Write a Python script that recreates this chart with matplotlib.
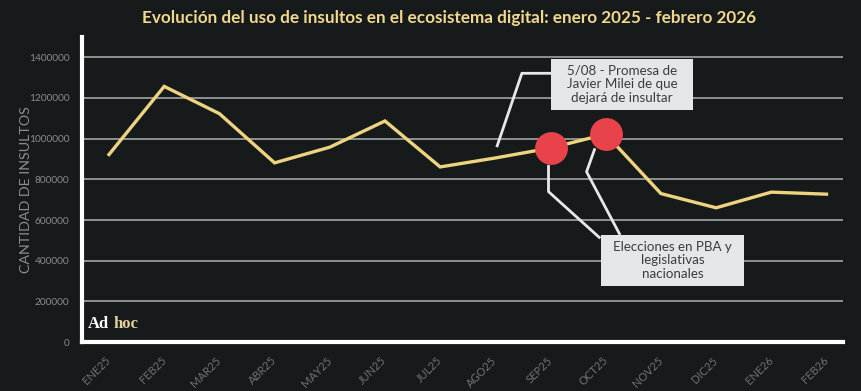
import matplotlib
matplotlib.use("Agg")
import matplotlib.pyplot as plt
from matplotlib.patches import Rectangle
from matplotlib.transforms import ScaledTranslation

months = ["ENE25", "FEB25", "MAR25", "ABR25", "MAY25", "JUN25", "JUL25",
          "AGO25", "SEP25", "OCT25", "NOV25", "DIC25", "ENE26", "FEB26"]
insultos = [922000, 1257000, 1123000, 881000, 958000, 1087000, 861000,
            905000, 954000, 1022000, 730000, 660000, 737000, 727000]
highlight = ["SEP25", "OCT25"]
yticks = [0, 200000, 400000, 600000, 800000, 1000000, 1200000, 1400000]

title = "Evolución del uso de insultos en el ecosistema digital: enero 2025 - febrero 2026"
ylabel = "CANTIDAD DE INSULTOS"
note_top = "5/08 - Promesa de\nJavier Milei de que\ndejará de insultar"
note_bottom = "Elecciones en PBA y\nlegislativas\nnacionales"

BG = "#161a1b"
LINE = "#eed47f"
RED = "#e8434b"
GRID = "#a3a3a3"
BOX = "#e4e6e7"
FONT = ["Lato", "DejaVu Sans"]

plt.rcParams["font.family"] = FONT

fig = plt.figure(figsize=(8.62, 3.91), dpi=100, facecolor=BG)
ax = fig.add_axes([0.0951, 0.1253, 0.978 - 0.0951, 0.9054 - 0.1253])
ax.set_facecolor(BG)

x = list(range(len(months)))
ax.set_xlim(-0.49, 13.3)
ax.set_ylim(0, 1500000)

for t in yticks[1:]:
    ax.axhline(t, color=GRID, lw=1.2, zorder=1)

ax.plot(x, insultos, color=LINE, lw=2.4, zorder=3, solid_joinstyle="miter")

hx = [months.index(m) for m in highlight]
hy = [insultos[i] for i in hx]
ax.scatter(hx, hy, s=560, color=RED, zorder=5, linewidths=0)

for s in ["top", "right"]:
    ax.spines[s].set_visible(False)
for s in ["left", "bottom"]:
    ax.spines[s].set_color("white")
    ax.spines[s].set_linewidth(3)

ax.set_yticks(yticks)
ax.set_yticklabels([str(v) for v in yticks], color="#8c8c8c", fontsize=7.3)
ax.set_xticks(x)
ax.set_xticklabels(months, rotation=45, ha="right", va="center",
                   rotation_mode="anchor", color="#727272", fontsize=8)
off = ScaledTranslation(5 / 100, 0, fig.dpi_scale_trans)
for lab in ax.get_xticklabels():
    lab.set_transform(lab.get_transform() + off)
ax.tick_params(axis="both", length=0)
ax.tick_params(axis="y", pad=9)
ax.tick_params(axis="x", pad=12)

ax.set_ylabel(ylabel, color="#8c8c8c", fontsize=10.3)
ax.yaxis.set_label_coords(-0.066, 0.5)

fig.text(0.521, 0.953, title, color="#f2d88e", fontsize=12.35, fontweight="bold",
         ha="center", va="center")

# callouts (axes fraction)
wl = dict(color="#e8e8e8", lw=2, transform=ax.transAxes, zorder=4,
          solid_capstyle="butt")
ax.plot([0.545, 0.578, 0.617], [0.639, 0.881, 0.881], **wl)
ax.plot([0.613, 0.613, 0.681], [0.580, 0.493, 0.340], **wl)
ax.plot([0.674, 0.663, 0.707], [0.635, 0.558, 0.351], **wl)

ax.add_patch(Rectangle((0.616, 0.761), 0.187, 0.167, transform=ax.transAxes,
                       facecolor=BOX, edgecolor="none", zorder=6))
ax.text(0.7095, 0.8445, note_top, transform=ax.transAxes, ha="center",
        va="center", fontsize=9.6, color="#3c3c3c", zorder=7, linespacing=1.15)
ax.add_patch(Rectangle((0.682, 0.184), 0.188, 0.167, transform=ax.transAxes,
                       facecolor=BOX, edgecolor="none", zorder=6))
ax.text(0.776, 0.2675, note_bottom, transform=ax.transAxes, ha="center",
        va="center", fontsize=9.6, color="#3c3c3c", zorder=7, linespacing=1.15)

# logo
ax.text(0.008, 0.058, "Ad", transform=ax.transAxes, fontsize=12,
        family="Liberation Serif", fontweight="bold", color="white",
        ha="left", va="center", zorder=7)
ax.text(0.041, 0.058, "hoc", transform=ax.transAxes, fontsize=12,
        family="Liberation Serif", fontweight="bold", color="#e6d49a",
        ha="left", va="center", zorder=7)

fig.savefig("out.png", dpi=100, facecolor=BG)
